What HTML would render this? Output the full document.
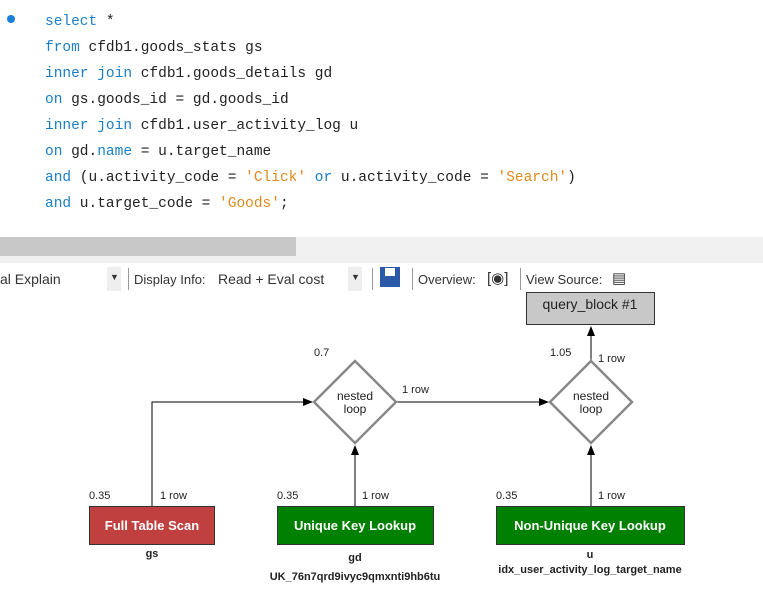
<!DOCTYPE html>
<html><head><meta charset="utf-8"><style>
html,body{margin:0;padding:0;width:763px;height:593px;overflow:hidden;background:#fff;position:relative}
.code{position:absolute;left:45px;font-family:"Liberation Mono",monospace;font-size:14.5px;color:#222;white-space:pre;line-height:18px}
.k{color:#1a7fc8}.s{color:#e08a1e}
.tb{position:absolute;font-family:"Liberation Sans",sans-serif;font-size:13px;color:#333;white-space:pre}
</style></head><body>
<div style="position:absolute;left:7px;top:15px;width:8px;height:8px;border-radius:50%;background:#1a7fd8"></div>
<div class="code" style="top:13px"><span class="k">select</span> *</div>
<div class="code" style="top:39px"><span class="k">from</span> cfdb1.goods_stats gs</div>
<div class="code" style="top:65px"><span class="k">inner join</span> cfdb1.goods_details gd</div>
<div class="code" style="top:91px"><span class="k">on</span> gs.goods_id = gd.goods_id</div>
<div class="code" style="top:117px"><span class="k">inner join</span> cfdb1.user_activity_log u</div>
<div class="code" style="top:143px"><span class="k">on</span> gd.<span class="k">name</span> = u.target_name</div>
<div class="code" style="top:169px"><span class="k">and</span> (u.activity_code = <span class="s">'Click'</span> <span class="k">or</span> u.activity_code = <span class="s">'Search'</span>)</div>
<div class="code" style="top:195px"><span class="k">and</span> u.target_code = <span class="s">'Goods'</span>;</div>
<div style="position:absolute;left:0;top:237px;width:763px;height:26px;background:#f0f0f0"></div>
<div style="position:absolute;left:0;top:237px;width:296px;height:19px;background:#c8c8c8"></div>
<div class="tb" style="left:0;top:271px;font-size:14px">al Explain</div>
<div style="position:absolute;left:107px;top:267px;width:14px;height:24px;background:#eee"></div>
<div class="tb" style="left:110px;top:272px;font-size:9px">▼</div>
<div style="position:absolute;left:128px;top:268px;width:1px;height:22px;background:#999"></div>
<div class="tb" style="left:134px;top:272px">Display Info:</div>
<div class="tb" style="left:218px;top:271px;font-size:14px">Read + Eval cost</div>
<div style="position:absolute;left:348px;top:267px;width:14px;height:24px;background:#eee"></div>
<div class="tb" style="left:351px;top:272px;font-size:9px">▼</div>
<div style="position:absolute;left:372px;top:268px;width:1px;height:22px;background:#999"></div>
<div style="position:absolute;left:380px;top:267px;width:20px;height:20px;background:#2a5aa8"></div>
<div style="position:absolute;left:385px;top:268px;width:10px;height:8px;background:#fff"></div>
<div style="position:absolute;left:412px;top:268px;width:1px;height:22px;background:#999"></div>
<div class="tb" style="left:418px;top:272px">Overview:</div>
<div class="tb" style="left:487px;top:269px;font-size:15px">[◉]</div>
<div style="position:absolute;left:520px;top:268px;width:1px;height:22px;background:#999"></div>
<div class="tb" style="left:526px;top:272px">View Source:</div>
<div class="tb" style="left:612px;top:269px;font-size:15px">▤</div>
<svg style="position:absolute;left:0;top:0" width="763" height="593">
<defs><marker id="a" markerWidth="10" markerHeight="8" refX="9" refY="4" orient="auto" markerUnits="userSpaceOnUse"><path d="M0,0 L10,4 L0,8z" fill="#000"/></marker></defs>
<g font-family="Liberation Sans,sans-serif" font-size="11" fill="#222">
<rect x="526.5" y="292.5" width="128" height="32" fill="#c8c8c8" stroke="#333"/>
<text x="590" y="309" text-anchor="middle" font-size="14">query_block #1</text>
<path d="M152 506 V402 H312" stroke="#000" fill="none" marker-end="url(#a)"/>
<path d="M355 506 V446" stroke="#000" fill="none" marker-end="url(#a)"/>
<path d="M397 402 H548" stroke="#000" fill="none" marker-end="url(#a)"/>
<path d="M591 506 V446" stroke="#000" fill="none" marker-end="url(#a)"/>
<path d="M591 360 V327" stroke="#000" fill="none" marker-end="url(#a)"/>
<polygon points="355,361 396,402 355,443 314,402" fill="#fff" stroke="#888" stroke-width="2.5"/>
<polygon points="591,361 632,402 591,443 550,402" fill="#fff" stroke="#888" stroke-width="2.5"/>
<text x="355" y="400" text-anchor="middle" font-size="12">nested</text>
<text x="355" y="413" text-anchor="middle" font-size="12">loop</text>
<text x="591" y="400" text-anchor="middle" font-size="12">nested</text>
<text x="591" y="413" text-anchor="middle" font-size="12">loop</text>
<text x="314" y="356">0.7</text>
<text x="402" y="393">1 row</text>
<text x="550" y="356">1.05</text>
<text x="598" y="362">1 row</text>
<rect x="89.5" y="506.5" width="125" height="38" fill="#c04040" stroke="#333"/>
<rect x="277.5" y="506.5" width="156" height="38" fill="#008000" stroke="#333"/>
<rect x="496.5" y="506.5" width="188" height="38" fill="#008000" stroke="#333"/>
<g fill="#fff" font-weight="bold" font-size="13" text-anchor="middle">
<text x="152" y="530">Full Table Scan</text>
<text x="355" y="530">Unique Key Lookup</text>
<text x="590" y="530">Non-Unique Key Lookup</text></g>
<text x="89" y="499">0.35</text><text x="160" y="499">1 row</text>
<text x="277" y="499">0.35</text><text x="362" y="499">1 row</text>
<text x="496" y="499">0.35</text><text x="598" y="499">1 row</text>
<g text-anchor="middle" font-weight="bold">
<text x="152" y="557">gs</text>
<text x="355" y="561">gd</text>
<text x="355" y="580">UK_76n7qrd9ivyc9qmxnti9hb6tu</text>
<text x="590" y="558">u</text>
<text x="590" y="573">idx_user_activity_log_target_name</text></g>
</g></svg>
</body></html>
